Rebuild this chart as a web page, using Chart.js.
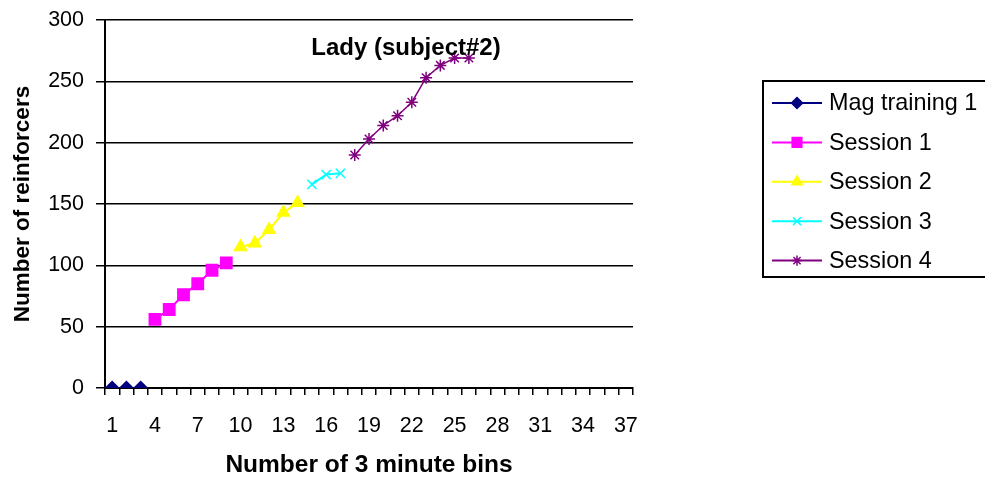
<!DOCTYPE html>
<html>
<head>
<meta charset="utf-8">
<script src="https://cdn.jsdelivr.net/npm/chart.js@4/dist/chart.umd.min.js"></script>
<style>
  html, body { margin: 0; padding: 0; background: #fff; }
  #wrap { width: 985px; height: 484px; position: relative; }
</style>
</head>
<body>
<div id="wrap"><canvas id="chart" width="985" height="484"></canvas></div>
<script>
// --- data ---
const bins = ["1","2","3","4","5","6","7","8","9","10","11","12","13","14","15","16","17","18","19",
              "20","21","22","23","24","25","26","27","28","29","30","31","32","33","34","35","36","37"];
const yTicks = [0, 50, 100, 150, 200, 250, 300];

const magTraining1 = [0, 0, 0];                 // bins 1-3
const session1 = [56, 64, 76, 85, 96, 102];      // bins 4-9
const session2 = [115, 118, 129, 143, 151];      // bins 10-14
const session3 = [166, 174, 175];                // bins 15-17
const session4 = [190, 203, 214, 222, 233, 253, 263, 269, 269]; // bins 18-26

const seriesNames  = ["Mag training 1", "Session 1", "Session 2", "Session 3", "Session 4"];
const seriesStart  = ["1", "4", "10", "15", "18"];
const seriesValues = [magTraining1, session1, session2, session3, session4];

// pad a series out to the full category list
function pad(values, startLabel) {
  const out = bins.map(() => null);
  const s = bins.indexOf(startLabel);
  values.forEach((v, i) => { out[s + i] = v; });
  return out;
}

const FONT = "'Liberation Sans', Arial, sans-serif";
const styles = [
  { color: "#000080", pointStyle: "rectRot",  radius: 6.5, lineWidth: 2 },
  { color: "#FF00FF", pointStyle: "rect",     radius: 8,   lineWidth: 2 },
  { color: "#FFFF00", pointStyle: "triangle", radius: 7,   lineWidth: 2 },
  { color: "#00FFFF", pointStyle: "crossRot", radius: 6.5, lineWidth: 2 },
  { color: "#800080", pointStyle: "star",     radius: 6,   lineWidth: 1.5 }
];

const datasets = seriesValues.map((vals, i) => ({
  label: seriesNames[i],
  data: pad(vals, seriesStart[i]),
  borderColor: styles[i].color,
  backgroundColor: styles[i].color,
  borderWidth: styles[i].lineWidth,
  pointStyle: styles[i].pointStyle,
  pointRadius: styles[i].radius,
  pointBorderWidth: 1.5,
  pointBackgroundColor: styles[i].color,
  pointBorderColor: styles[i].color,
  tension: 0,
  spanGaps: false
}));

// title drawn inside plot area
const innerTitle = {
  id: "innerTitle",
  afterDraw(chart) {
    const { ctx, chartArea } = chart;
    ctx.save();
    ctx.font = "bold 24px " + FONT;
    ctx.fillStyle = "#000";
    ctx.textAlign = "center";
    ctx.textBaseline = "middle";
    ctx.fillText("Lady (subject#2)", chartArea.left + chartArea.width * 0.57, chartArea.top + 28);
    ctx.restore();
  }
};

// excel-like legend box with line + marker samples
const boxLegend = {
  id: "boxLegend",
  afterDraw(chart) {
    const { ctx } = chart;
    const left = 763, top = 81, bottom = 277, right = 990;
    ctx.save();
    ctx.strokeStyle = "#000";
    ctx.lineWidth = 2;
    ctx.strokeRect(left, top, right - left, bottom - top);
    chart.data.datasets.forEach((ds, i) => {
      const y = 103 + i * 39.4;
      ctx.strokeStyle = ds.borderColor;
      ctx.lineWidth = 2;
      ctx.beginPath();
      ctx.moveTo(772, y);
      ctx.lineTo(822, y);
      ctx.stroke();
      ctx.fillStyle = ds.pointBackgroundColor;
      ctx.strokeStyle = ds.pointBorderColor;
      ctx.lineWidth = ds.pointBorderWidth;
      Chart.helpers.drawPoint(ctx, {
        pointStyle: ds.pointStyle, radius: ds.pointRadius * 0.85, rotation: 0, borderWidth: ds.pointBorderWidth
      }, 797, y);
      ctx.fillStyle = "#000";
      ctx.font = "23.4px " + FONT;
      ctx.textAlign = "left";
      ctx.textBaseline = "middle";
      ctx.fillText(ds.label, 829, y + 1);
    });
    ctx.restore();
  }
};

new Chart(document.getElementById("chart"), {
  type: "line",
  data: { labels: bins, datasets },
  plugins: [innerTitle, boxLegend],
  options: {
    responsive: false,
    animation: false,
    layout: { padding: { top: 20, right: 352, left: 5, bottom: 0 } },
    plugins: { legend: { display: false }, tooltip: { enabled: false }, title: { display: false } },
    scales: {
      x: {
        type: "category",
        offset: true,
        afterFit(scale) { scale.height = 96; },
        grid: {
          offset: true, drawOnChartArea: false, drawTicks: true,
          tickLength: 7, color: "#000", lineWidth: 1.5
        },
        border: { color: "#000", width: 2 },
        ticks: {
          autoSkip: false, maxRotation: 0, minRotation: 0, padding: 18,
          color: "#000", font: { family: FONT, size: 21.5 },
          callback(val, idx) { return idx % 3 === 0 ? this.getLabelForValue(val) : ""; }
        },
        title: {
          display: true, text: "Number of 3 minute bins", color: "#000",
          font: { family: FONT, size: 24.5, weight: "bold" }, padding: { top: 10, bottom: 4 }
        }
      },
      y: {
        min: 0, max: 300,
        afterFit(scale) { scale.width = 100; scale.paddingTop = 0; scale.paddingBottom = 0; },
        afterBuildTicks(scale) { scale.ticks = yTicks.map(v => ({ value: v })); },
        grid: { color: "#000", lineWidth: 1.5, tickLength: 9 },
        border: { color: "#000", width: 2 },
        ticks: { color: "#000", padding: 12, font: { family: FONT, size: 21.5 } },
        title: {
          display: true, text: "Number of reinforcers", color: "#000",
          font: { family: FONT, size: 22.5, weight: "bold" }, padding: { bottom: 8 }
        }
      }
    }
  }
});
</script>
</body>
</html>
